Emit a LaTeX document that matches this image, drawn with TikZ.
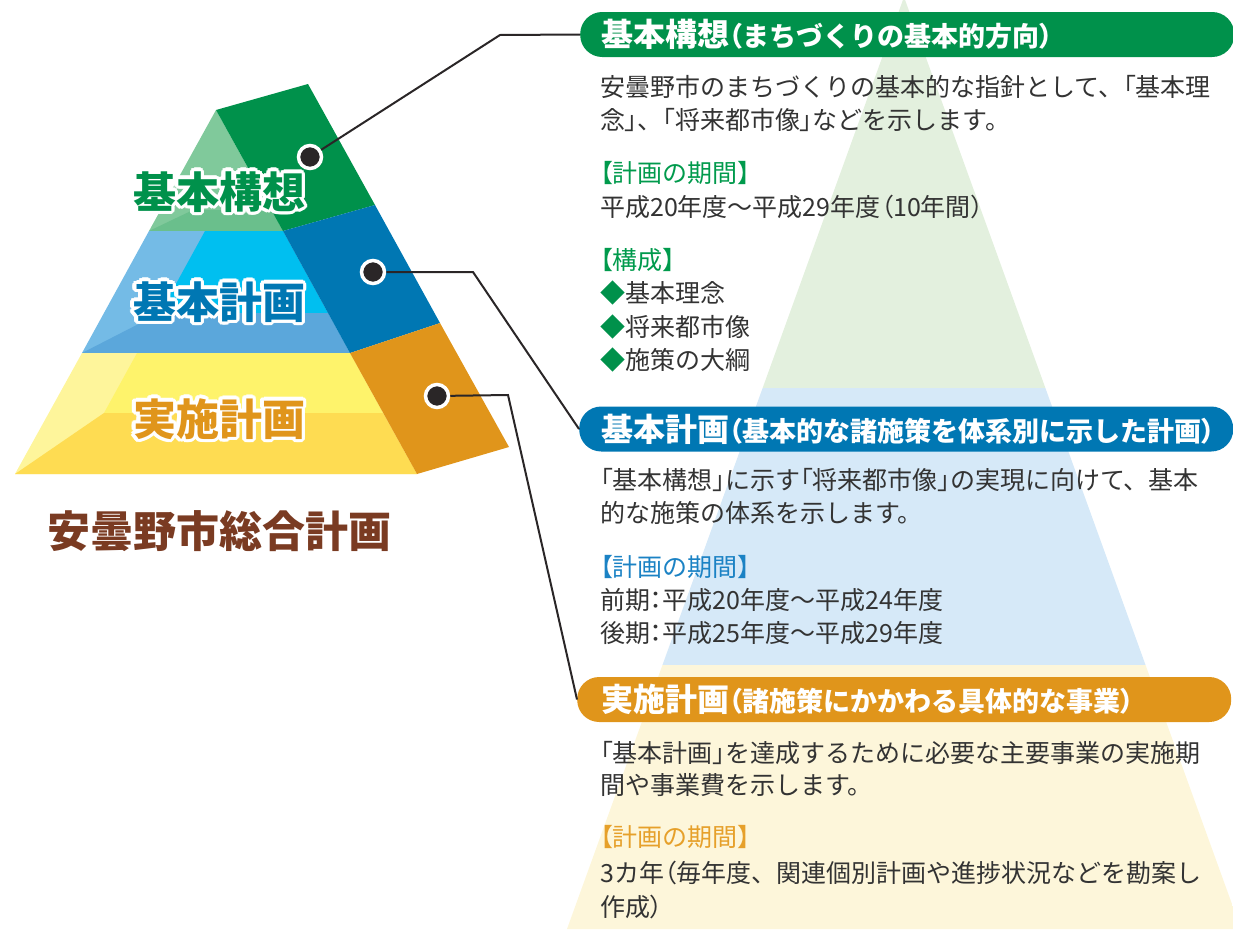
\documentclass[tikz,border=0pt]{standalone}
\usepackage{fontspec}
\newfontfamily\jp{Noto Sans CJK JP}
\newcommand\half[1]{{\addfontfeature{RawFeature=+palt}#1}}
\newcommand\subhead[1]{{\fontsize{27}{32}\selectfont#1}}
\definecolor{ink}{HTML}{2A2627}
\definecolor{leaf}{HTML}{00914B}
\definecolor{sea}{HTML}{0077B3}
\definecolor{amber}{HTML}{E0951B}
\definecolor{leafL}{HTML}{80C99B}
\definecolor{leafM}{HTML}{6ABF8C}
\definecolor{skyL}{HTML}{74BBE6}
\definecolor{cyanC}{HTML}{00BFF0}
\definecolor{skyM}{HTML}{5BA7DB}
\definecolor{sunL}{HTML}{FEF59B}
\definecolor{sunC}{HTML}{FEF36B}
\definecolor{sunM}{HTML}{FEDC52}
\definecolor{bgLeaf}{HTML}{E3F0DE}
\definecolor{bgSea}{HTML}{D6E9F8}
\definecolor{bgSun}{HTML}{FDF6DA}
\definecolor{brownT}{HTML}{7A3B22}
\definecolor{leafT}{HTML}{009A4C}
\definecolor{seaT}{HTML}{1B82C4}
\definecolor{amberT}{HTML}{E6A02A}
\definecolor{txt}{HTML}{333333}
\begin{document}
\begin{tikzpicture}[x=1pt,y=1pt,
    body/.style={anchor=base west, inner sep=0pt, text=txt, font=\jp\fontsize{25}{30}\selectfont},
    head/.style={anchor=base west, inner sep=0pt, text=white, font=\jp\bfseries\fontsize{32}{36}\selectfont},
    bar/.style={anchor=west, inner sep=0pt, minimum width=654, minimum height=45, rounded corners=22, fill=#1},
    tier/.style={inner sep=0pt, font=\jp\bfseries\fontsize{43}{48}\selectfont, text=#1},
    halo/.style={tier=white},
    pin/.style={circle, inner sep=0pt, minimum size=23, fill=ink, draw=white, line width=3.5},
    link/.style={draw=ink, line width=2}]
    \useasboundingbox (0,0) rectangle (1233,-929);
    \clip (0,0) rectangle (1233,-929);
    \begin{scope}
    \clip (904,3) -- (567,-929) -- (1241,-929) -- cycle;
    \fill [bgLeaf] (560,5) rectangle (1245,-388);
    \fill [bgSea] (560,-388) rectangle (1245,-665);
    \fill [bgSun] (560,-665) rectangle (1245,-935);
    \end{scope}
    \fill [leafL] (216,-110) -- (149,-231) -- (283,-231) -- cycle;
    \fill [leafM] (149,-231) -- (193,-210) -- (272,-210) -- (283,-231) -- cycle;
    \fill [leaf] (216,-110) -- (308,-84) -- (375,-205) -- (283,-231) -- cycle;
    \fill [skyL] (149,-231) -- (82,-353) -- (350,-353) -- (283,-231) -- cycle;
    \fill [cyanC] (205,-231) -- (160,-313) -- (328,-313) -- (283,-231) -- cycle;
    \fill [skyM] (82,-353) -- (160,-313) -- (328,-313) -- (350,-353) -- cycle;
    \fill [sea] (283,-231) -- (375,-205) -- (440,-323) -- (350,-353) -- cycle;
    \fill [sunL] (82,-353) -- (15,-474) -- (417,-474) -- (350,-353) -- cycle;
    \fill [sunC] (137,-353) -- (104,-413) -- (383,-413) -- (350,-353) -- cycle;
    \fill [sunM] (15,-474) -- (104,-413) -- (383,-413) -- (417,-474) -- cycle;
    \fill [amber] (350,-353) -- (440,-323) -- (509,-447) -- (417,-474) -- cycle;
    \foreach \a in {0,22.5,...,337.5} {
        \node [halo, shift={(\a:3.5)}] at (219,-192) {基本構想};
        \node [halo, shift={(\a:3.5)}] at (219,-302) {基本計画};
        \node [halo, shift={(\a:3.5)}] at (219,-419) {実施計画};
    }
    \node [tier=leaf] (t1) at (219,-192) {基本構想};
    \node [tier=sea] (t2) at (219,-302) {基本計画};
    \node [tier=amber] (t3) at (219,-419) {実施計画};
    \node [tier=brownT] (t0) at (219,-531) {安曇野市総合計画};
    \node [pin] (p1) at (310,-157) {};
    \node [pin] (p2) at (373,-272) {};
    \node [pin] (p3) at (437,-396) {};
    \node [bar=leaf] (h1) at (580,-34.5) {};
    \node [bar=sea] (h2) at (579,-429) {};
    \node [bar=amber] (h3) at (577,-699.5) {};
    \coordinate (k1) at (500,-35);
    \coordinate (k2) at (473,-272);
    \coordinate (k3) at (508,-395);
    \draw [link] (p1) -- (k1) -- (h1.west);
    \draw [link] (p2) -- (k2) -- (h2.west);
    \draw [link] (p3) -- (k3) -- (h3.west);
    \node [head] (n1) at (601,-46.5) {基本構想\subhead{\half{（}まちづくりの基本的方向\half{）}}};
    \node [head] (n2) at (601,-441) {基本計画\subhead{\half{（}基本的な諸施策を体系別に示した計画\half{）}}};
    \node [head] (n3) at (601,-711.5) {実施計画\subhead{\half{（}諸施策にかかわる具体的な事業\half{）}}};
    \node [body] (g1) at (600,-96.5) {安曇野市のまちづくりの基本的な指針として、\half{「}基本理};
    \node [body] (g2) at (600,-129.5) {念\half{」}、\half{「}将来都市像\half{」}などを示します。};
    \node [body, text=leafT] (g3) at (600,-182.5) {\half{【}計画の期間】};
    \node [body] (g4) at (600,-216.5) {平成20年度〜平成29年度\half{（}10年間\half{）}};
    \node [body, text=leafT] (g5) at (600,-269.5) {\half{【}構成】};
    \node [body] (g6) at (600,-302.5) {\textcolor{leaf}{◆}基本理念};
    \node [body] (g7) at (600,-336.5) {\textcolor{leaf}{◆}将来都市像};
    \node [body] (g8) at (600,-369.5) {\textcolor{leaf}{◆}施策の大綱};
    \node [body] (b1) at (600,-489.5) {\half{「}基本構想\half{」}に示す\half{「}将来都市像\half{」}の実現に向けて、基本};
    \node [body] (b2) at (600,-522.5) {的な施策の体系を示します。};
    \node [body, text=seaT] (b3) at (600,-576.5) {\half{【}計画の期間】};
    \node [body] (b4) at (600,-609.5) {前期\half{：}平成20年度〜平成24年度};
    \node [body] (b5) at (600,-642.5) {後期\half{：}平成25年度〜平成29年度};
    \node [body] (o1) at (600,-762.5) {\half{「}基本計画\half{」}を達成するために必要な主要事業の実施期};
    \node [body] (o2) at (600,-794.5) {間や事業費を示します。};
    \node [body, text=amberT] (o3) at (600,-846.5) {\half{【}計画の期間】};
    \node [body] (o4) at (600,-882.5) {3カ年\half{（}毎年度、関連個別計画や進捗状況などを勘案し};
    \node [body] (o5) at (600,-916.5) {作成\half{）}};
\end{tikzpicture}
\end{document}
